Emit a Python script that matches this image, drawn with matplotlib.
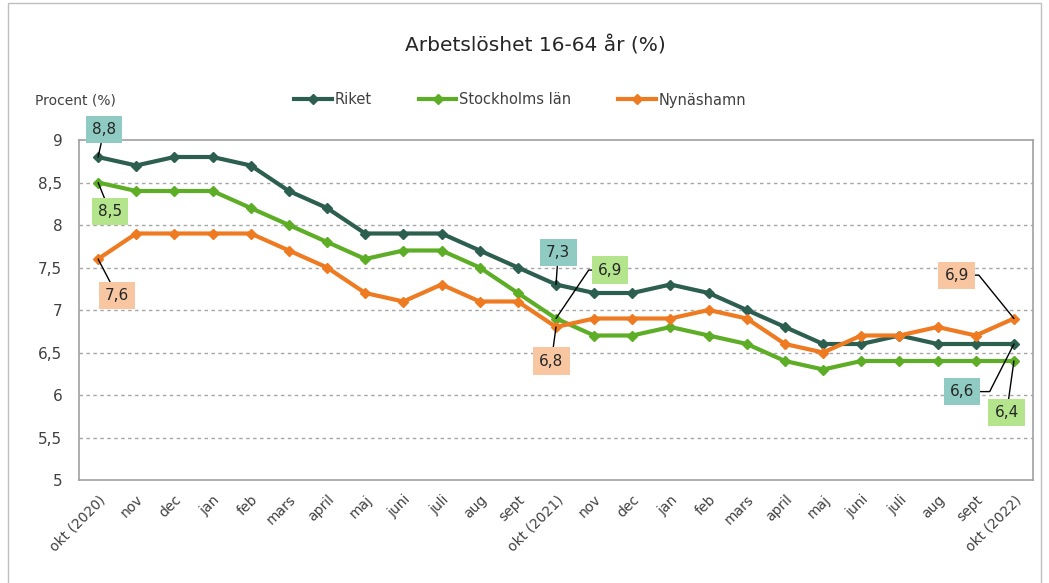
import matplotlib.pyplot as plt
from matplotlib.patches import Rectangle
from matplotlib.ticker import FuncFormatter

# %%
months = ["okt (2020)", "nov", "dec", "jan", "feb", "mars", "april", "maj", "juni", "juli",
          "aug", "sept", "okt (2021)", "nov", "dec", "jan", "feb", "mars", "april", "maj",
          "juni", "juli", "aug", "sept", "okt (2022)"]
riket = [8.8, 8.7, 8.8, 8.8, 8.7, 8.4, 8.2, 7.9, 7.9, 7.9, 7.7, 7.5, 7.3,
         7.2, 7.2, 7.3, 7.2, 7.0, 6.8, 6.6, 6.6, 6.7, 6.6, 6.6, 6.6]
stockholm = [8.5, 8.4, 8.4, 8.4, 8.2, 8.0, 7.8, 7.6, 7.7, 7.7, 7.5, 7.2, 6.9,
             6.7, 6.7, 6.8, 6.7, 6.6, 6.4, 6.3, 6.4, 6.4, 6.4, 6.4, 6.4]
nynashamn = [7.6, 7.9, 7.9, 7.9, 7.9, 7.7, 7.5, 7.2, 7.1, 7.3, 7.1, 7.1, 6.8,
             6.9, 6.9, 6.9, 7.0, 6.9, 6.6, 6.5, 6.7, 6.7, 6.8, 6.7, 6.9]
y_ticks = [5, 5.5, 6, 6.5, 7, 7.5, 8, 8.5, 9]

# %%
C_RIKET = "#2C5F4F"
C_STHLM = "#5DAE26"
C_NYN = "#EE7B22"
BOX_RIKET = "#8FCBC3"
BOX_STHLM = "#B4E58C"
BOX_NYN = "#F8C7A1"
TXT = "#404040"

plt.rcParams["font.family"] = "DejaVu Sans"

fig = plt.figure(figsize=(10.49, 5.83), dpi=100)
ax = fig.add_axes([79 / 1049, 1 - 480 / 583, (1033 - 79) / 1049, (480 - 140) / 583])

# outer chart border
fig.patches.append(Rectangle((8 / 1049, -0.05), (1041 - 8) / 1049, 1.05 - 3 / 583,
                             transform=fig.transFigure, fill=False,
                             edgecolor="#BFBFBF", lw=1))

x = list(range(len(months)))
series = [("Riket", riket, C_RIKET), ("Stockholms län", stockholm, C_STHLM),
          ("Nynäshamn", nynashamn, C_NYN)]
for name, vals, col in series:
    ax.plot(x, vals, color=col, lw=3, marker="D", markersize=5, label=name, zorder=3)

ax.set_xlim(-0.5, len(months) - 0.5)
ax.set_ylim(5, 9)
ax.set_yticks(y_ticks)
ax.yaxis.set_major_formatter(FuncFormatter(lambda v, p: f"{v:g}".replace(".", ",")))
ax.set_xticks(x)
ax.set_xticklabels(months, rotation=45, ha="right", rotation_mode="anchor")
ax.tick_params(axis="both", length=0, labelsize=10, colors=TXT, pad=9)
ax.tick_params(axis="y", labelsize=11, pad=12)
for y in y_ticks[1:-1]:
    ax.axhline(y, color="#A6A6A6", lw=1, ls=(0, (2.5, 2.5)), zorder=1)
for sp in ax.spines.values():
    sp.set_color("#A0A0A0")
    sp.set_linewidth(1.2)

fig.text(0.51, 1 - 45 / 583, "Arbetslöshet 16-64 år (%)", ha="center", va="center",
         fontsize=14.5, color="#262626")
fig.text(35 / 1049, 1 - 100 / 583, "Procent (%)", ha="left", va="center",
         fontsize=10, color=TXT)
fig.legend(loc="center", bbox_to_anchor=(0.496, 1 - 100 / 583), ncol=3, frameon=False,
           fontsize=10.5, handlelength=2.6, handletextpad=0.2, columnspacing=3.2,
           labelcolor=TXT)


# %%
def label(i, vals, text_xy, box, conn="arc3"):
    ax.annotate(f"{vals[i]:g}".replace(".", ","), xy=(i, vals[i]), xytext=text_xy,
                ha="center", va="center", fontsize=11, color="#262626",
                annotation_clip=False, zorder=5,
                bbox=dict(boxstyle="square,pad=0.4", fc=box, ec="none"),
                arrowprops=dict(arrowstyle="-", color="black", lw=1, shrinkA=0,
                                shrinkB=0, connectionstyle=conn))


last = len(months) - 1
label(0, riket, (0.16, 9.12), BOX_RIKET)
label(0, stockholm, (0.31, 8.16), BOX_STHLM)
label(0, nynashamn, (0.5, 7.17), BOX_NYN)
label(12, riket, (12.06, 7.68), BOX_RIKET)
label(12, stockholm, (13.42, 7.47), BOX_STHLM, "angle,angleA=0,angleB=56,rad=0")
label(12, nynashamn, (11.88, 6.4), BOX_NYN)
label(last, nynashamn, (22.5, 7.41), BOX_NYN, "angle,angleA=0,angleB=129,rad=0")
label(last, riket, (22.64, 6.04), BOX_RIKET, "angle,angleA=0,angleB=-117,rad=0")
label(last, stockholm, (23.81, 5.79), BOX_STHLM)

fig.savefig("out.png", dpi=100)
